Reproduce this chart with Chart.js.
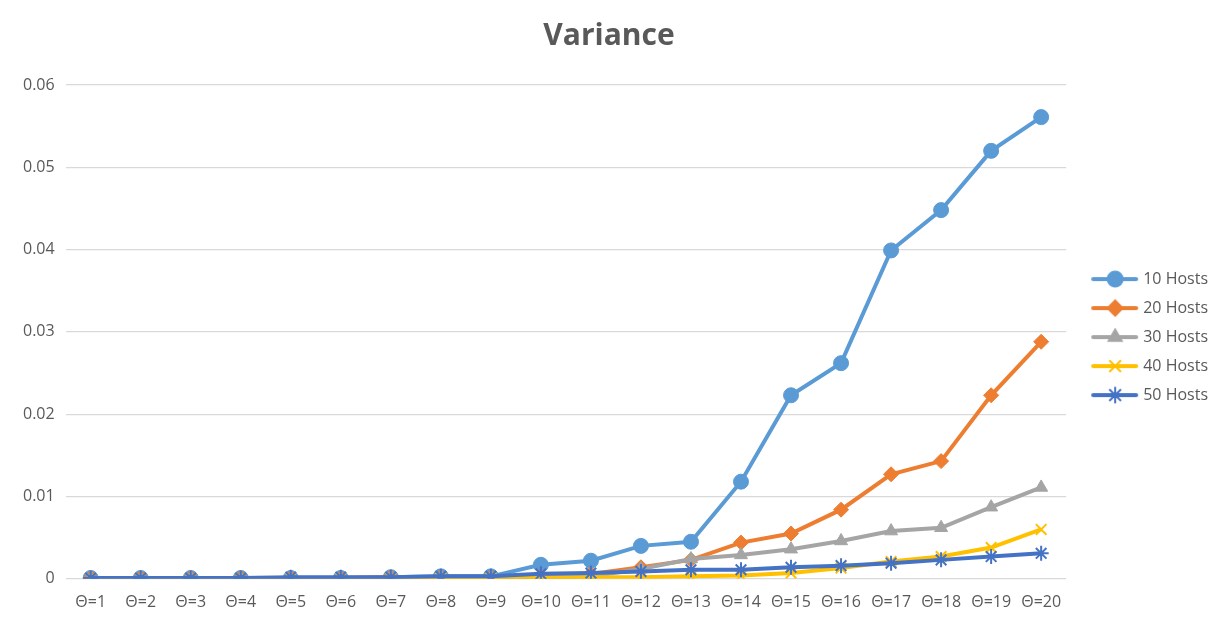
<!DOCTYPE html>
<html>
<head>
<meta charset="utf-8">
<script src="https://cdn.jsdelivr.net/npm/chart.js@4"></script>
<style>
    html, body { margin: 0; padding: 0; background: #fff; }
    #wrap { width: 1214px; height: 622px; position: relative; }
</style>
</head>
<body>
<div id="wrap"><canvas id="varChart"></canvas></div>
<script>
// ---- Data ----
const categories = ['Θ=1', 'Θ=2', 'Θ=3', 'Θ=4', 'Θ=5', 'Θ=6', 'Θ=7', 'Θ=8', 'Θ=9', 'Θ=10',
                    'Θ=11', 'Θ=12', 'Θ=13', 'Θ=14', 'Θ=15', 'Θ=16', 'Θ=17', 'Θ=18', 'Θ=19', 'Θ=20'];
const seriesNames = ['10 Hosts', '20 Hosts', '30 Hosts', '40 Hosts', '50 Hosts'];
const hosts10 = [0.0001, 0.0001, 0.0001, 0.0001, 0.0001, 0.0001, 0.0002, 0.0003, 0.0003, 0.0017,
                 0.0022, 0.0040, 0.0045, 0.0118, 0.0223, 0.0262, 0.0399, 0.0448, 0.0520, 0.0561];
const hosts20 = [0.0001, 0.0001, 0.0001, 0.0001, 0.0001, 0.0001, 0.0002, 0.0002, 0.0002, 0.0003,
                 0.0006, 0.0014, 0.0023, 0.0044, 0.0055, 0.0084, 0.0127, 0.0143, 0.0223, 0.0288];
const hosts30 = [0.0000, 0.0000, 0.0000, 0.0000, 0.0000, 0.0000, 0.0001, 0.0001, 0.0001, 0.0001,
                 0.0003, 0.0012, 0.0024, 0.0029, 0.0036, 0.0046, 0.0058, 0.0062, 0.0087, 0.0111];
const hosts40 = [0.0001, 0.0001, 0.0001, 0.0001, 0.0001, 0.0001, 0.0001, 0.0001, 0.0001, 0.0001,
                 0.0002, 0.0002, 0.0003, 0.0004, 0.0007, 0.0013, 0.0021, 0.0027, 0.0038, 0.0060];
const hosts50 = [0.0001, 0.0001, 0.0001, 0.0001, 0.0002, 0.0002, 0.0002, 0.0003, 0.0003, 0.0006,
                 0.0007, 0.0009, 0.0011, 0.0011, 0.0014, 0.0016, 0.0019, 0.0023, 0.0027, 0.0031];
const yTicks = [0, 0.01, 0.02, 0.03, 0.04, 0.05, 0.06];

const colors = ['#5B9BD5', '#ED7D31', '#A5A5A5', '#FFC000', '#4472C4'];
const markers = ['circle', 'rectRot', 'triangle', 'crossRot', 'star'];
const allSeries = [hosts10, hosts20, hosts30, hosts40, hosts50];

const FONT = '"Open Sans", "Liberation Sans", sans-serif';
const TEXT = '#595959';

// ---- Legend swatches: line with marker in the middle ----
// canvas is centred on the legend box, so the line sits off-centre to the right
function makeSwatch(color, style) {
    const c = document.createElement('canvas');
    c.width = 64; c.height = 18;
    const g = c.getContext('2d');
    g.strokeStyle = color;
    g.lineWidth = 4;
    g.lineCap = 'round';
    g.beginPath();
    g.moveTo(18, 9); g.lineTo(61, 9);
    g.stroke();
    g.fillStyle = color;
    g.lineWidth = 2;
    Chart.helpers.drawPoint(g, { pointStyle: style, radius: 7.5, borderWidth: 2, rotation: 0 }, 40, 9);
    return c;
}
const swatches = colors.map((c, i) => makeSwatch(c, markers[i]));

const datasets = allSeries.map((vals, i) => ({
    label: seriesNames[i],
    data: vals,
    borderColor: colors[i],
    backgroundColor: colors[i],
    borderWidth: 4,
    pointStyle: markers[i],
    pointRadius: 7.5,
    pointHoverRadius: 7.5,
    pointBorderWidth: i >= 3 ? 2 : 1,
    pointBackgroundColor: colors[i],
    pointBorderColor: colors[i],
    tension: 0,
    fill: false,
    order: 5 - i,
}));

new Chart(document.getElementById('varChart'), {
    type: 'line',
    data: { labels: categories, datasets: datasets },
    options: {
        responsive: true,
        maintainAspectRatio: false,
        animation: false,
        layout: { padding: { left: 0, right: -4, top: 12, bottom: 4 } },
        plugins: {
            title: {
                display: true,
                text: 'Variance',
                color: TEXT,
                font: { family: FONT, size: 30, weight: 'bold' },
                padding: { top: 6, bottom: 31 },
            },
            legend: {
                position: 'right',
                title: { display: true, text: '', font: { family: FONT, size: 16 }, padding: { top: 25, bottom: 0 } },
                labels: {
                    usePointStyle: true,
                    pointStyleWidth: 56,
                    color: TEXT,
                    font: { family: FONT, size: 16 },
                    padding: 13,
                    generateLabels: () => seriesNames.map((name, i) => ({
                        text: name,
                        pointStyle: swatches[i],
                        fillStyle: colors[i],
                        strokeStyle: colors[i],
                        lineWidth: 0,
                        fontColor: TEXT,
                        hidden: false,
                        datasetIndex: i,
                    })),
                },
            },
            tooltip: { enabled: false },
        },
        scales: {
            x: {
                offset: true,
                grid: { display: false },
                border: { display: false },
                ticks: { color: TEXT, font: { family: FONT, size: 16 }, maxRotation: 0, autoSkip: false, padding: 6 },
            },
            y: {
                min: 0,
                max: 0.06,
                afterBuildTicks: axis => { axis.ticks = yTicks.map(v => ({ value: v })); },
                afterFit: axis => { axis.width += 12; },
                grid: { color: '#D9D9D9', lineWidth: 1.3, drawTicks: false },
                border: { display: false },
                ticks: { color: TEXT, font: { family: FONT, size: 16 }, padding: 11, callback: v => String(v) },
            },
        },
    },
});
</script>
</body>
</html>
